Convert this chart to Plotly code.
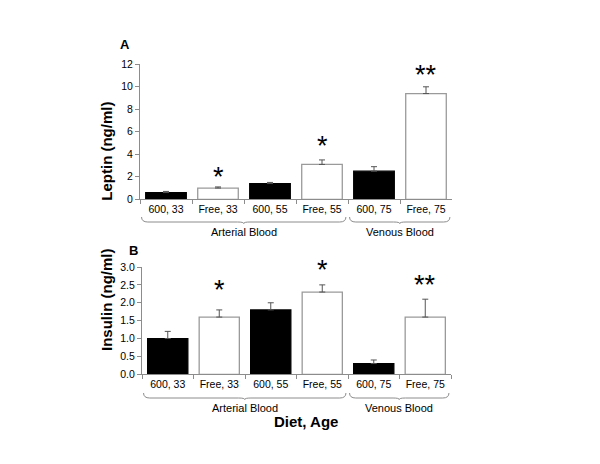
import plotly.graph_objects as go

# page has an 8px body margin, so the figure is drawn 8px in from the corner
OFF = 8
W, H = 600 - OFF, 464 - OFF

categories = ["600, 33", "Free, 33", "600, 55", "Free, 55", "600, 75", "Free, 75"]
bar_colors = ["black", "white", "black", "white", "black", "white"]
line_colors = ["black", "#9a9a9a", "black", "#9a9a9a", "black", "#9a9a9a"]

leptin = [0.6, 1.0, 1.4, 3.1, 2.5, 9.4]
leptin_err = [0.1, 0.1, 0.1, 0.4, 0.4, 0.6]
leptin_sig = ["", "*", "", "*", "", "**"]

insulin = [1.0, 1.6, 1.8, 2.3, 0.3, 1.6]
insulin_err = [0.2, 0.2, 0.2, 0.2, 0.1, 0.5]
insulin_sig = ["", "*", "", "*", "", "**"]

# gap (px) between the top of the error bar and the star mark
leptin_sig_gap = [0, 15, 0, 19, 0, 17]
insulin_sig_gap = [0, 25, 0, 20, 0, 19]

groups = [("Arterial Blood", 0, 3), ("Venous Blood", 4, 5)]

FONT = "Liberation Sans, Arial, sans-serif"


def px(x):
    return (x - OFF) / W


def py(y):
    return (H - (y - OFF)) / H


fig = go.Figure()


def add_panel(values, errs, xa, ya):
    fig.add_trace(go.Bar(
        x=categories, y=values,
        marker=dict(color=bar_colors, line=dict(color=line_colors, width=1.3)),
        width=0.78,
        error_y=dict(type="data", symmetric=False, array=errs,
                     arrayminus=[0] * len(errs), color="#555555",
                     thickness=1, width=3),
        xaxis=xa, yaxis=ya, showlegend=False,
    ))


add_panel(leptin, leptin_err, "x", "y")
add_panel(insulin, insulin_err, "x2", "y2")

axis_common = dict(showline=True, linecolor="#8c8c8c", linewidth=1,
                   ticks="outside", ticklen=4, tickcolor="#8c8c8c",
                   showgrid=False, zeroline=False, automargin=False,
                   tickfont=dict(family=FONT, size=10.5, color="black"))

fig.update_layout(
    width=W, height=H, margin=dict(l=0, r=0, t=0, b=0, autoexpand=False),
    paper_bgcolor="white", plot_bgcolor="white",
    bargap=0.22,
    xaxis=dict(domain=[px(140), px(452)], anchor="y", tickson="boundaries",
               range=[-0.5, 5.5], **axis_common),
    yaxis=dict(domain=[py(199.3), py(64.3)], anchor="x", range=[0, 12],
               tickvals=[0, 2, 4, 6, 8, 10, 12], **axis_common),
    xaxis2=dict(domain=[px(142), px(451)], anchor="y2", tickson="boundaries",
                range=[-0.5, 5.5], **axis_common),
    yaxis2=dict(domain=[py(374.3), py(267)], anchor="x2", range=[0, 3],
                tickvals=[0, 0.5, 1, 1.5, 2, 2.5, 3], tickformat=".1f",
                **axis_common),
)

ann = []


def text_ann(x, y, text, size, xref="paper", yref="paper", **kw):
    d = dict(x=x, y=y, xref=xref, yref=yref, text=text, showarrow=False,
             xanchor="center", yanchor="middle",
             font=dict(family=FONT, size=size, color="black"))
    d.update(kw)
    ann.append(d)


# significance stars, anchored on the error-bar tops
for xa, ya, vals, errs, sig, gaps in [
        ("x", "y", leptin, leptin_err, leptin_sig, leptin_sig_gap),
        ("x2", "y2", insulin, insulin_err, insulin_sig, insulin_sig_gap)]:
    for c, v, e, s, g in zip(categories, vals, errs, sig, gaps):
        if s:
            text_ann(c, v + e, s, 27, xref=xa, yref=ya, yshift=g - 5)

# panel letters
text_ann(px(125), py(45), "<b>A</b>", 13)
text_ann(px(133), py(250), "<b>B</b>", 13)

# axis titles
text_ann(px(107), py(151.7), "<b>Leptin (ng/ml)</b>", 15, textangle=-90)
text_ann(px(106), py(300), "<b>Insulin (ng/ml)</b>", 15, textangle=-90)
text_ann(px(306), py(421.7), "<b>Diet, Age</b>", 15)

shapes = []
for xa, label_y in [("x", 212.0), ("x2", 388.0)]:
    y_end = py(label_y + 5)
    y_mid = py(label_y + 10)
    y_tip = py(label_y + 11.5)
    for name, i0, i1 in groups:
        a = i0 - 0.47
        b = i1 + 0.46
        c = (a + b) / 2
        d = 0.12
        path = (f"M {a},{y_end} Q {a},{y_mid} {a + d},{y_mid} "
                f"L {c - d},{y_mid} Q {c},{y_mid} {c},{y_tip} "
                f"Q {c},{y_mid} {c + d},{y_mid} "
                f"L {b - d},{y_mid} Q {b},{y_mid} {b},{y_end}")
        shapes.append(dict(type="path", path=path, xref=xa, yref="paper",
                           line=dict(color="#8c8c8c", width=1)))
        text_ann(c, py(label_y + 20), name, 11, xref=xa)

fig.update_layout(annotations=ann, shapes=shapes)

fig.write_html("out.html")
